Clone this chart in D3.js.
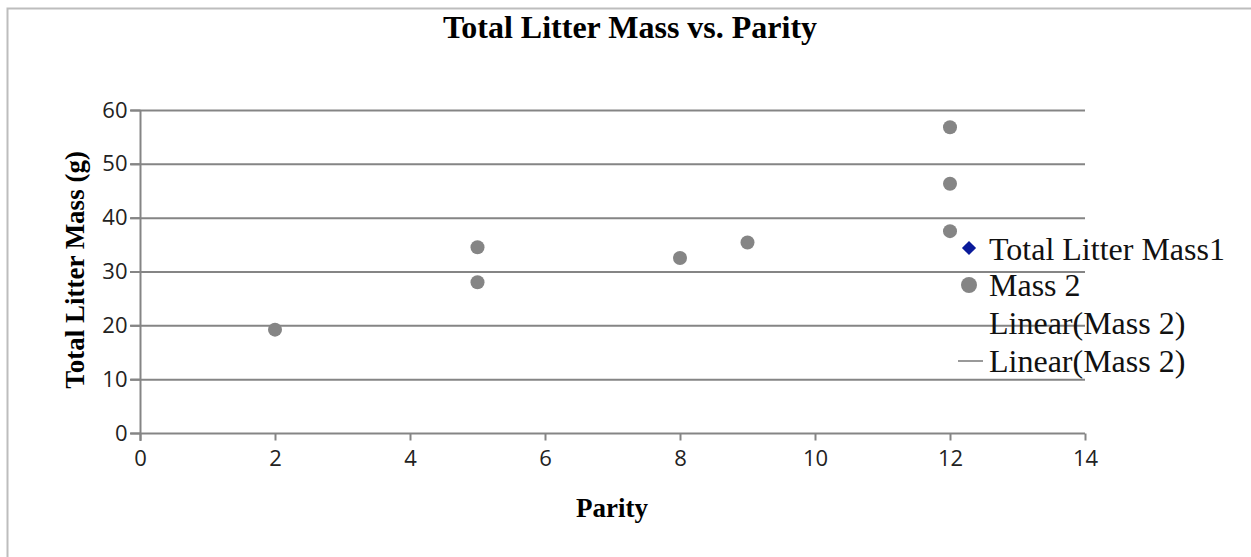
<!DOCTYPE html>
<html>
<head>
<meta charset="utf-8">
<script src="https://cdn.jsdelivr.net/npm/d3@7"></script>
<style>
body { margin: 0; background: #fff; }
svg { display: block; }
</style>
</head>
<body>
<svg></svg>
<script>
//Canvas settings
var width = 1251;
var height = 557;
var margin = {left: 140, right: 166, top: 110, bottom: 124};

//Data
var parity = [2, 5, 5, 8, 9, 12, 12, 12];
var litterMass = [19.2, 34.5, 28.0, 32.5, 35.4, 56.8, 46.3, 37.5];
var xTicks = [0, 2, 4, 6, 8, 10, 12, 14];
var yTicks = [0, 10, 20, 30, 40, 50, 60];
var legendLabels = ["Total Litter Mass1", "Mass 2", "Linear(Mass 2)", "Linear(Mass 2)"];

var svg = d3.select("svg")
	.attr("width", width)
	.attr("height", height);

//outer frame (only top and left edges show)
svg.append("path")
	.attr("d", "M7.5," + height + "V8.5H" + width)
	.attr("fill", "none")
	.attr("stroke", "#bdbdbd")
	.attr("stroke-width", 2);

var x = d3.scaleLinear().domain([0, 14]).range([margin.left, width - margin.right]);
var y = d3.scaleLinear().domain([0, 60]).range([height - margin.bottom, margin.top]);

//gridlines
svg.append("g")
	.selectAll("line")
	.data(yTicks.filter(function(d) { return d > 0; }))
	.enter().append("line")
	.attr("x1", x(0) - 10)
	.attr("x2", x(14))
	.attr("y1", function(d) { return y(d) + 0.5; })
	.attr("y2", function(d) { return y(d) + 0.5; })
	.attr("stroke", "#858585")
	.attr("stroke-width", 2);

//y axis
var yAxis = svg.append("g")
	.attr("transform", "translate(" + (x(0) + 0.5) + ",0)")
	.call(d3.axisLeft(y).tickValues(yTicks).tickSize(10).tickPadding(3));
yAxis.select(".domain").attr("d", "M0," + (y(60)) + "V" + (y(0) + 8));

//x axis
var xAxis = svg.append("g")
	.attr("transform", "translate(0," + (y(0) + 0.5) + ")")
	.call(d3.axisBottom(x).tickValues(xTicks).tickSize(7).tickPadding(10));
xAxis.select(".domain").attr("d", "M" + (x(0) - 10) + ",0H" + x(14));

svg.selectAll(".tick line, .domain")
	.attr("stroke", "#858585")
	.attr("stroke-width", 2);
svg.selectAll(".tick text")
	.attr("fill", "#222")
	.style("font-family", "'Open Sans', sans-serif")
	.style("font-size", "22px");

//points
svg.append("g")
	.selectAll("circle")
	.data(parity)
	.enter().append("circle")
	.attr("cx", function(d) { return x(d); })
	.attr("cy", function(d, i) { return y(litterMass[i]); })
	.attr("r", 7)
	.attr("fill", "#858585");

//titles
var serif = "'Liberation Serif', 'Times New Roman', serif";
svg.append("text")
	.attr("x", 630).attr("y", 38)
	.attr("text-anchor", "middle")
	.style("font-family", serif).style("font-weight", "bold").style("font-size", "32px")
	.text("Total Litter Mass vs. Parity");
svg.append("text")
	.attr("x", 612).attr("y", 517)
	.attr("text-anchor", "middle")
	.style("font-family", serif).style("font-weight", "bold").style("font-size", "27px")
	.text("Parity");
svg.append("text")
	.attr("transform", "translate(84,270) rotate(-90)")
	.attr("text-anchor", "middle")
	.style("font-family", serif).style("font-weight", "bold").style("font-size", "27px")
	.text("Total Litter Mass (g)");

//legend
var legendY = [249, 285, 323, 361];
var legend = svg.append("g");
legend.selectAll("text")
	.data(legendLabels)
	.enter().append("text")
	.attr("x", 989)
	.attr("y", function(d, i) { return legendY[i] + 11; })
	.style("font-family", serif).style("font-size", "32px")
	.attr("fill", "#111")
	.text(function(d) { return d; });
legend.append("path")
	.attr("d", d3.symbol().type(d3.symbolSquare).size(100))
	.attr("transform", "translate(969," + (legendY[0] - 1) + ") rotate(45)")
	.attr("fill", "#0a1a9a");
legend.append("circle")
	.attr("cx", 969).attr("cy", legendY[1])
	.attr("r", 8)
	.attr("fill", "#858585");
legend.append("line")
	.attr("x1", 958).attr("x2", 983)
	.attr("y1", legendY[3]).attr("y2", legendY[3])
	.attr("stroke", "#999")
	.attr("stroke-width", 2);
</script>
</body>
</html>
